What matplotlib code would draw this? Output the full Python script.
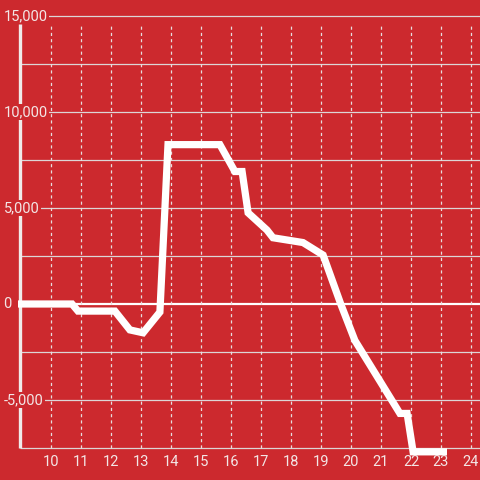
import matplotlib.pyplot as plt

plt.rcParams['font.family'] = ['Roboto', 'DejaVu Sans']

bg = '#cc292e'
fg = '#f3e6e6'

# values
x_vals = [8.9, 10.7, 10.9, 12.13, 12.63, 13.07, 13.63, 13.9, 15.63, 16.13, 16.37,
          16.57, 17.2, 17.4, 18.4, 19.07, 19.67, 20.13, 21.63, 21.87, 22.07, 23.2]
y_vals = [0, 0, -370, -370, -1350, -1500, -420, 8300, 8300, 6900, 6900,
          4750, 3850, 3450, 3200, 2550, -50, -1900, -5700, -5700, -7700, -7700]
x_ticks = list(range(10, 25))
y_grid = [-7500, -5000, -2500, 0, 2500, 5000, 7500, 10000, 12500, 15000]
y_labels = {15000: '15,000', 10000: '10,000', 5000: '5,000', 0: '0', -5000: '-5,000'}

fig = plt.figure(figsize=(4.8, 4.8), dpi=100, facecolor=bg)
ax = fig.add_axes([0, 0, 1, 1])
ax.set_facecolor(bg)
ax.set_xlim(8.3, 24.3)
ax.set_ylim(-9167, 15833)
ax.axis('off')

x0 = 8.97
top = 14600

# grid
for g in y_grid:
    if g == 0:
        ax.hlines(g, x0, 24.3, color='white', lw=1.6, zorder=1)
    else:
        ax.hlines(g, x0, 24.3, color='#dcd6d6', lw=0.9, zorder=1)
ax.vlines(x_ticks, -7500, top, color='#e6dede', lw=0.9, linestyles=(0, (2.5, 2.5)), zorder=1)

# left spine
ax.vlines(x0, -7500, top, color='#f0eaea', lw=2.4, zorder=2)

# data line
ax.plot(x_vals, y_vals, color='white', lw=5.2, solid_joinstyle='miter',
        solid_capstyle='butt', zorder=3)

# labels
for v, s in y_labels.items():
    ax.text(8.42, v, s, ha='left', va='center', color=fg, fontsize=10.5, zorder=4,
            bbox=dict(facecolor=bg, edgecolor='none', pad=1.0))
for t in x_ticks:
    ax.text(t, -8229, str(t), ha='center', va='center', color=fg, fontsize=10.5)

fig.savefig('out.png', dpi=100, facecolor=bg)
